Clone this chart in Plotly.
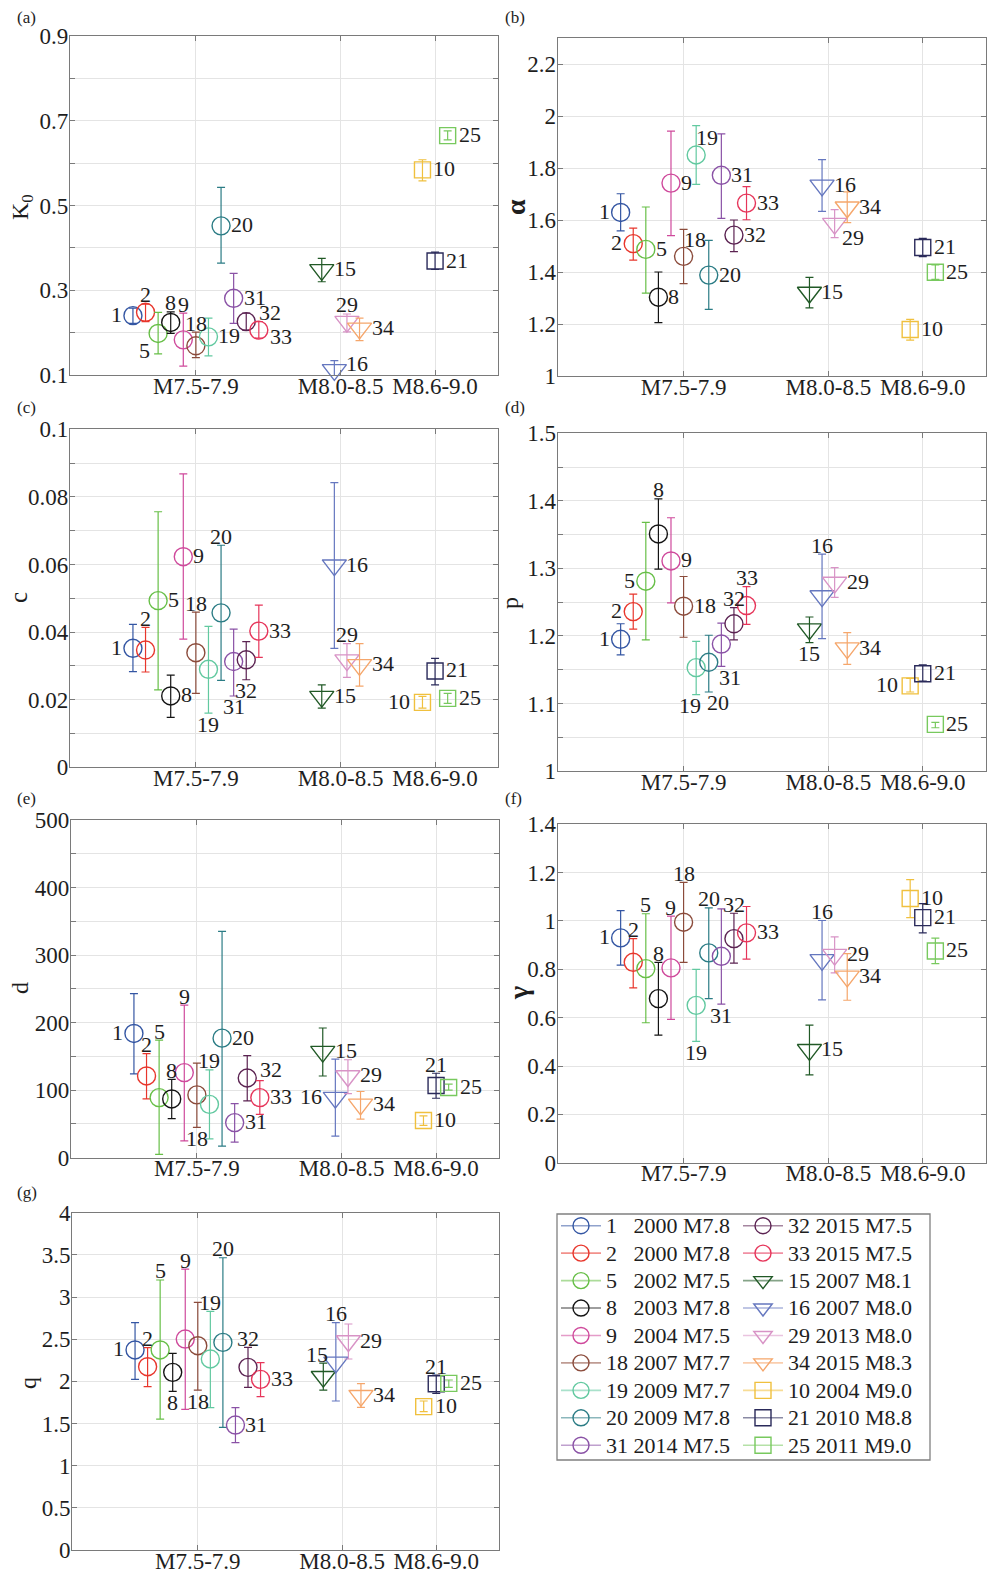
import plotly.graph_objects as go

W, H = 991, 1585
FONT = "Liberation Serif"
INK = "#1e1e1e"

# ---- events -------------------------------------------------------------
EVENTS = ["1", "2", "5", "8", "9", "18", "19", "20", "31", "32", "33",
          "15", "16", "29", "34", "10", "21", "25"]
YEARS = ["2000", "2000", "2002", "2003", "2004", "2007", "2009", "2009", "2014",
         "2015", "2015", "2007", "2007", "2013", "2015", "2004", "2010", "2011"]
MAGS = ["M7.8", "M7.8", "M7.5", "M7.8", "M7.5", "M7.7", "M7.7", "M7.8", "M7.5",
        "M7.5", "M7.5", "M8.1", "M8.0", "M8.0", "M8.3", "M9.0", "M8.8", "M9.0"]
GROUP = [0] * 11 + [1] * 4 + [2] * 3
SLOT = [1, 2, 3, 4, 5, 6, 7, 8, 9, 10, 11, 16, 17, 18, 19, 24, 25, 26]
GROUP_LABELS = ["M7.5-7.9", "M8.0-8.5", "M8.6-9.0"]
GROUP_CENTERS = [6, 17.5, 25]
X_RANGE = [-4, 30]

COLORS = ["#3456a3", "#e8362c", "#67bf47", "#141414", "#cf4a9c", "#8b4b3b",
          "#62c9a0", "#2b7c85", "#8a52a6", "#5b2352", "#e6355a",
          "#215926", "#6577bf", "#d893c6", "#f5a66b",
          "#f0c03e", "#2a2a5a", "#78c95e"]

# ---- parameter estimates (value, upper bound, lower bound) --------------
K0_VAL = [0.240, 0.248, 0.198, 0.224, 0.183, 0.169, 0.190, 0.452, 0.281, 0.226, 0.206,
          0.348, 0.112, 0.226, 0.210, 0.584, 0.369, 0.665]
K0_HI = [0.258, 0.267, 0.248, 0.249, 0.246, 0.201, 0.234, 0.543, 0.340, 0.246, 0.226,
         0.375, 0.134, 0.244, 0.234, 0.608, 0.390, 0.676]
K0_LO = [0.222, 0.226, 0.150, 0.198, 0.121, 0.141, 0.145, 0.364, 0.222, 0.206, 0.187,
         0.320, 0.088, 0.202, 0.181, 0.558, 0.349, 0.655]

ALPHA_VAL = [1.629, 1.509, 1.487, 1.303, 1.742, 1.460, 1.850, 1.388, 1.772, 1.542, 1.665,
             1.321, 1.733, 1.586, 1.649, 1.179, 1.494, 1.399]
ALPHA_HI = [1.701, 1.569, 1.650, 1.400, 1.942, 1.564, 1.963, 1.522, 1.931, 1.600, 1.728,
            1.379, 1.832, 1.640, 1.708, 1.218, 1.529, 1.427]
ALPHA_LO = [1.558, 1.446, 1.319, 1.205, 1.540, 1.355, 1.737, 1.256, 1.606, 1.478, 1.601,
            1.262, 1.633, 1.532, 1.590, 1.138, 1.459, 1.372]

C_VAL = [0.0352, 0.0347, 0.0493, 0.0211, 0.0623, 0.0339, 0.0290, 0.0457, 0.0313, 0.0318, 0.0403,
         0.0209, 0.0598, 0.0317, 0.0303, 0.0192, 0.0285, 0.0204]
C_HI = [0.0423, 0.0414, 0.0756, 0.0273, 0.0868, 0.0459, 0.0417, 0.0657, 0.0409, 0.0372, 0.0480,
        0.0244, 0.0842, 0.0366, 0.0366, 0.0210, 0.0322, 0.0219]
C_LO = [0.0283, 0.0282, 0.0229, 0.0148, 0.0379, 0.0219, 0.0160, 0.0257, 0.0211, 0.0259, 0.0325,
        0.0175, 0.0352, 0.0266, 0.0240, 0.0175, 0.0244, 0.0189]

P_VAL = [1.195, 1.236, 1.281, 1.351, 1.311, 1.244, 1.153, 1.161, 1.188, 1.218, 1.245,
         1.210, 1.259, 1.279, 1.182, 1.126, 1.144, 1.069]
P_HI = [1.218, 1.262, 1.368, 1.403, 1.375, 1.288, 1.192, 1.201, 1.219, 1.242, 1.273,
        1.228, 1.321, 1.301, 1.205, 1.137, 1.157, 1.072]
P_LO = [1.172, 1.210, 1.194, 1.299, 1.249, 1.198, 1.113, 1.117, 1.155, 1.194, 1.217,
        1.190, 1.196, 1.257, 1.158, 1.117, 1.133, 1.064]

D_VAL = [184, 121, 89, 87, 126, 93, 79, 177, 52, 118, 89,
         157, 89, 121, 79, 55, 107, 104]
D_HI = [243, 154, 174, 116, 226, 140, 130, 335, 80, 151, 114,
        192, 146, 145, 98, 62, 125, 109]
D_LO = [124, 87, 5, 58, 25, 45, 28, 17, 23, 84, 64,
        121, 32, 95, 57, 48, 88, 100]

GAMMA_VAL = [0.930, 0.829, 0.803, 0.679, 0.806, 0.995, 0.651, 0.868, 0.854, 0.927, 0.951,
             0.467, 0.839, 0.861, 0.771, 1.093, 1.014, 0.876]
GAMMA_HI = [1.043, 0.927, 1.030, 0.829, 1.020, 1.160, 0.800, 1.054, 1.050, 1.032, 1.060,
            0.569, 1.002, 0.934, 0.865, 1.171, 1.072, 0.929]
GAMMA_LO = [0.817, 0.723, 0.579, 0.528, 0.593, 0.829, 0.502, 0.679, 0.656, 0.826, 0.842,
            0.363, 0.674, 0.785, 0.672, 1.014, 0.951, 0.824]

Q_VAL = [2.372, 2.174, 2.372, 2.107, 2.502, 2.423, 2.265, 2.462, 1.482, 2.166, 2.024,
         2.055, 2.225, 2.478, 1.830, 1.700, 1.972, 1.976]
Q_HI = [2.696, 2.399, 3.202, 2.332, 3.332, 2.937, 2.830, 3.466, 1.688, 2.403, 2.221,
        2.217, 2.696, 2.680, 1.972, 1.767, 2.075, 2.016]
Q_LO = [2.024, 1.937, 1.553, 1.881, 1.668, 1.897, 1.688, 1.455, 1.273, 1.929, 1.818,
        1.897, 1.767, 2.265, 1.692, 1.640, 1.858, 1.929]

# ---- y tick values / labels ---------------------------------------------
K0_TICKS = [0.1, 0.2, 0.3, 0.4, 0.5, 0.6, 0.7, 0.8, 0.9]
K0_TICKTEXT = ["0.1", "", "0.3", "", "0.5", "", "0.7", "", "0.9"]
ALPHA_TICKS = [1, 1.2, 1.4, 1.6, 1.8, 2, 2.2]
ALPHA_TICKTEXT = ["1", "1.2", "1.4", "1.6", "1.8", "2", "2.2"]
C_TICKS = [0, 0.01, 0.02, 0.03, 0.04, 0.05, 0.06, 0.07, 0.08, 0.09, 0.1]
C_TICKTEXT = ["0", "", "0.02", "", "0.04", "", "0.06", "", "0.08", "", "0.1"]
P_TICKS = [1, 1.05, 1.1, 1.15, 1.2, 1.25, 1.3, 1.35, 1.4, 1.45, 1.5]
P_TICKTEXT = ["1", "", "1.1", "", "1.2", "", "1.3", "", "1.4", "", "1.5"]
D_TICKS = [0, 50, 100, 150, 200, 250, 300, 350, 400, 450, 500]
D_TICKTEXT = ["0", "", "100", "", "200", "", "300", "", "400", "", "500"]
GAMMA_TICKS = [0, 0.2, 0.4, 0.6, 0.8, 1, 1.2, 1.4]
GAMMA_TICKTEXT = ["0", "0.2", "0.4", "0.6", "0.8", "1", "1.2", "1.4"]
Q_TICKS = [0, 0.5, 1, 1.5, 2, 2.5, 3, 3.5, 4]
Q_TICKTEXT = ["0", "0.5", "1", "1.5", "2", "2.5", "3", "3.5", "4"]

# ---- where each event number sits relative to its marker ----------------
# r/l: beside; t/b: beyond the error-bar end; tr/br/bl/ur/ru/dr: diagonal;
# suffix L/R nudges a t/b label sideways
K0_LABELPOS = ["l", "t", "bl", "t", "t", "t", "r", "r", "r", "ur", "dr",
               "r", "ru", "t", "r", "r", "r", "r"]
ALPHA_LABELPOS = ["l", "l", "r", "r", "r", "tr", "tr", "r", "r", "r", "r",
                  "r", "r", "br", "r", "r", "r", "r"]
C_LABELPOS = ["l", "t", "r", "r", "r", "t", "b", "t", "b", "b", "r",
              "r", "r", "t", "r", "l", "r", "r"]
P_LABELPOS = ["l", "l", "l", "t", "r", "r", "bL", "bR", "bR", "t", "t",
              "b", "t", "r", "r", "l", "r", "r"]
D_LABELPOS = ["l", "t", "t", "t", "t", "b", "t", "r", "r", "ur", "r",
              "r", "l", "r", "r", "r", "t", "r"]
GAMMA_LABELPOS = ["l", "t", "t", "t", "t", "t", "b", "t", "b", "t", "r",
                  "r", "t", "r", "r", "r", "r", "r"]
Q_LABELPOS = ["l", "t", "t", "b", "t", "b", "t", "t", "r", "t", "r",
              "tL", "t", "r", "r", "r", "t", "r"]

# ---- marker styling per magnitude group ---------------------------------
SYMBOLS = ["circle-open", "triangle-down-open", "square-open"]
SIZES = [18, 21, 16]
# half extents in px: (above, below, side gap for labels)
EXTENT = [(9, 9, 10), (5.5, 10.5, 12), (8, 8, 11)]
DIAGONAL = {"tr": ("left", -2, 17), "ur": ("left", 11, 9), "ru": ("left", 10, 6),
            "dr": ("left", 9, -6), "br": ("left", 5, -14), "bl": ("right", -6, -17)}

# panel boxes in page pixels: (left, top, right, bottom)
PANELS = [
    dict(letter="(a)", title="K<sub>0</sub>", bold=False, tsize=24, val=K0_VAL, hi=K0_HI, lo=K0_LO,
         yrange=[0.1, 0.9], tv=K0_TICKS, tt=K0_TICKTEXT, pos=K0_LABELPOS,
         box=(70, 36, 498, 375), title_xy=(22, 207), letter_xy=(15, 17)),
    dict(letter="(b)", title="α", bold=True, tsize=28, val=ALPHA_VAL, hi=ALPHA_HI, lo=ALPHA_LO,
         yrange=[1, 2.3], tv=ALPHA_TICKS, tt=ALPHA_TICKTEXT, pos=ALPHA_LABELPOS,
         box=(557.7, 38, 985.7, 376), title_xy=(516, 207), letter_xy=(503, 17)),
    dict(letter="(c)", title="c", bold=False, tsize=25, val=C_VAL, hi=C_HI, lo=C_LO,
         yrange=[0, 0.1], tv=C_TICKS, tt=C_TICKTEXT, pos=C_LABELPOS,
         box=(70, 429.3, 498, 767.3), title_xy=(18, 598), letter_xy=(15, 407)),
    dict(letter="(d)", title="p", bold=False, tsize=24, val=P_VAL, hi=P_HI, lo=P_LO,
         yrange=[1, 1.5], tv=P_TICKS, tt=P_TICKTEXT, pos=P_LABELPOS,
         box=(557.7, 433.3, 985.7, 771), title_xy=(510, 603), letter_xy=(503, 407)),
    dict(letter="(e)", title="d", bold=False, tsize=24, val=D_VAL, hi=D_HI, lo=D_LO,
         yrange=[0, 500], tv=D_TICKS, tt=D_TICKTEXT, pos=D_LABELPOS,
         box=(71, 820, 499, 1157.7), title_xy=(20, 988), letter_xy=(15, 798)),
    dict(letter="(f)", title="γ", bold=True, tsize=28, val=GAMMA_VAL, hi=GAMMA_HI, lo=GAMMA_LO,
         yrange=[0, 1.4], tv=GAMMA_TICKS, tt=GAMMA_TICKTEXT, pos=GAMMA_LABELPOS,
         box=(557.7, 824.3, 985.7, 1162.7), title_xy=(518, 993), letter_xy=(503, 798)),
    dict(letter="(g)", title="q", bold=False, tsize=24, val=Q_VAL, hi=Q_HI, lo=Q_LO,
         yrange=[0, 4], tv=Q_TICKS, tt=Q_TICKTEXT, pos=Q_LABELPOS,
         box=(72.3, 1212.7, 499, 1550), title_xy=(28, 1383), letter_xy=(15, 1192)),
]

LEGEND_BOX = (557, 1214, 930, 1460)


def px_x(v):
    return v / W


def px_y(v):
    return 1 - v / H


fig = go.Figure()
annotations = []
layout_axes = {}

for k, pnl in enumerate(PANELS, start=1):
    xa = "x" if k == 1 else f"x{k}"
    ya = "y" if k == 1 else f"y{k}"
    left, top, right, bottom = pnl["box"]
    axis_common = dict(
        showgrid=True, gridcolor="#e4e4e4", gridwidth=1,
        showline=True, linecolor="#7a7a7a", linewidth=1.3, mirror="ticks",
        ticks="inside", ticklen=5, tickcolor="#7a7a7a", tickwidth=1,
        zeroline=False,
        tickfont=dict(family=FONT, size=23, color=INK),
    )
    layout_axes["xaxis" if k == 1 else f"xaxis{k}"] = dict(
        axis_common, domain=[px_x(left), px_x(right)], range=X_RANGE,
        tickvals=GROUP_CENTERS, ticktext=GROUP_LABELS,
        anchor=ya, ticklabelstandoff=-10,
    )
    layout_axes["yaxis" if k == 1 else f"yaxis{k}"] = dict(
        axis_common, domain=[px_y(bottom), px_y(top)], range=pnl["yrange"],
        tickvals=pnl["tv"], ticktext=pnl["tt"],
        anchor=xa, ticklabelstandoff=-4,
    )

    scale = (bottom - top) / (pnl["yrange"][1] - pnl["yrange"][0])

    for i, ev in enumerate(EVENTS):
        g = GROUP[i]
        v, hi, lo = pnl["val"][i], pnl["hi"][i], pnl["lo"][i]
        fig.add_trace(go.Scatter(
            x=[SLOT[i]], y=[v], xaxis=xa, yaxis=ya, mode="markers",
            marker=dict(symbol=SYMBOLS[g], size=SIZES[g], color=COLORS[i],
                        line=dict(width=1.4, color=COLORS[i])),
            error_y=dict(type="data", symmetric=False, array=[hi - v],
                         arrayminus=[v - lo], color=COLORS[i],
                         thickness=1.2, width=4),
            cliponaxis=False, showlegend=False, hoverinfo="skip",
        ))

        # event number beside the marker
        up, down, side = EXTENT[g]
        up_px = max((hi - v) * scale, up)
        down_px = max((v - lo) * scale, down)
        code = pnl["pos"][i]
        ann = dict(x=SLOT[i], y=v, xref=xa, yref=ya, text=ev, showarrow=False,
                   font=dict(family=FONT, size=22, color=INK), yanchor="middle")
        if code in DIAGONAL:
            xanc, dx, dy = DIAGONAL[code]
            ann.update(xanchor=xanc, xshift=dx, yshift=dy)
        else:
            base, nudge = code[0], code[1:]
            dx = {"": 0, "L": -6, "R": 9}[nudge]
            if base == "r":
                ann.update(xanchor="left", xshift=side - 2, yshift=1)
            elif base == "l":
                ann.update(xanchor="right", xshift=-side + 1, yshift=1)
            elif base == "t":
                ann.update(xanchor="center", xshift=dx, yshift=up_px + 9)
            elif base == "b":
                ann.update(xanchor="center", xshift=dx, yshift=-(down_px + 11))
        annotations.append(ann)

    # axis title
    tx, ty = pnl["title_xy"]
    ttl = f"<b>{pnl['title']}</b>" if pnl["bold"] else pnl["title"]
    annotations.append(dict(
        x=px_x(tx), y=px_y(ty), xref="paper", yref="paper", text=ttl,
        textangle=-90, showarrow=False, xanchor="center", yanchor="middle",
        font=dict(family=FONT, size=pnl["tsize"], color=INK)))
    # panel letter
    lx, ly = pnl["letter_xy"]
    annotations.append(dict(
        x=px_x(lx), y=px_y(ly), xref="paper", yref="paper", text=pnl["letter"],
        showarrow=False, xanchor="left", yanchor="middle",
        font=dict(family=FONT, size=17, color=INK)))


# ---- legend entries (two columns) ---------------------------------------
def faded(hex_color, a=0.55):
    h = hex_color.lstrip("#")
    r, g, b = int(h[0:2], 16), int(h[2:4], 16), int(h[4:6], 16)
    return f"rgba({r},{g},{b},{a})"


for i, ev in enumerate(EVENTS):
    g = GROUP[i]
    num = ev if len(ev) == 2 else ev + "\u00a0\u00a0"
    name = f'<span style="font-size:22px">{num} {YEARS[i]} {MAGS[i]}</span>'
    fig.add_trace(go.Scatter(
        x=[None], y=[None], xaxis="x", yaxis="y", mode="lines+markers", name=name,
        line=dict(color=faded(COLORS[i]), width=1.6),
        marker=dict(symbol=SYMBOLS[g], size=SIZES[g], color=COLORS[i],
                    line=dict(width=1.4, color=COLORS[i])),
        legend="legend" if i < 9 else "legend2",
        showlegend=True, hoverinfo="skip",
    ))

legend_common = dict(
    xanchor="left", yanchor="top", bgcolor="rgba(0,0,0,0)", borderwidth=0,
    font=dict(family=FONT, size=18.8, color=INK), itemwidth=40,
    tracegroupgap=0, itemclick=False, itemdoubleclick=False,
)
lb_left, lb_top, lb_right, lb_bottom = LEGEND_BOX
fig.update_layout(
    legend=dict(legend_common, x=px_x(556), y=px_y(1207)),
    legend2=dict(legend_common, x=px_x(738), y=px_y(1207)),
)

shapes = [dict(type="rect", xref="paper", yref="paper",
               x0=px_x(lb_left), x1=px_x(lb_right), y0=px_y(lb_bottom), y1=px_y(lb_top),
               line=dict(color="#808080", width=1.3), fillcolor="rgba(0,0,0,0)")]

fig.update_layout(
    width=W, height=H,
    margin=dict(l=0, r=0, t=0, b=0, pad=0, autoexpand=False),
    paper_bgcolor="white", plot_bgcolor="white",
    annotations=annotations, shapes=shapes,
    font=dict(family=FONT, color=INK),
    **layout_axes,
)

fig.write_html("out.html")
